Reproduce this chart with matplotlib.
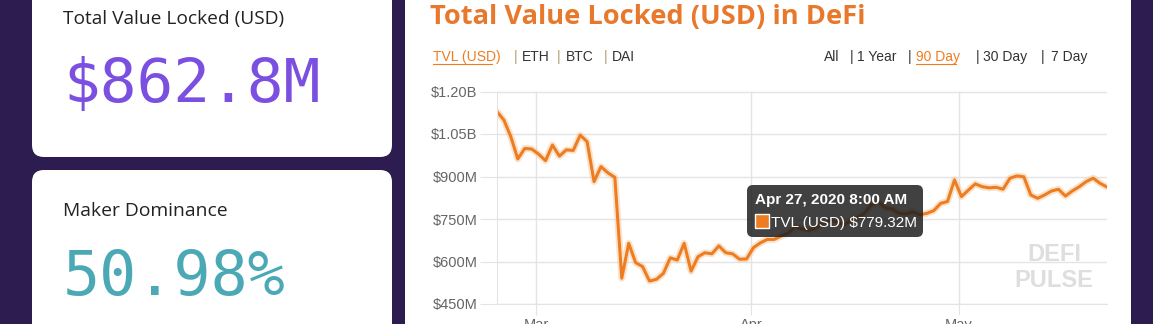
import matplotlib
matplotlib.use('Agg')
import matplotlib.pyplot as plt
from matplotlib.patches import FancyBboxPatch, Rectangle
import pandas as pd

# 每日 TVL (百万美元), 2020-02-24 到 2020-05-22, 每天 8:00 AM
tvl_feb = [1129, 1099, 1040, 962, 999, 997]
tvl_mar = [979, 956, 1011, 972, 994, 992, 1046, 1023, 882, 935, 913, 897,
           541, 664, 596, 582, 531, 537, 558, 613, 605, 664, 566, 617,
           631, 627, 655, 631, 627, 608, 609]
tvl_apr = [649, 666, 678, 678, 690, 700, 722, 715, 710, 718, 735, 745,
           740, 730, 745, 755, 770, 800, 810, 790, 785, 770, 768, 775,
           765, 770, 779.32, 805, 812, 888]
tvl_may = [829, 852, 874, 864, 860, 862, 855, 894, 902, 899, 835, 823,
           835, 849, 855, 831, 849, 864, 882, 894, 876, 862.8]
tvl_values = tvl_feb + tvl_mar + tvl_apr + tvl_may
dates = pd.date_range('2020-02-24 08:00', periods=len(tvl_values), freq='D')

y_ticks = [450, 600, 750, 900, 1050, 1200]
y_labels = ['$450M', '$600M', '$750M', '$900M', '$1.05B', '$1.20B']
x_ticks = pd.to_datetime(['2020-03-01', '2020-04-01', '2020-05-01'])
x_labels = ['Mar', 'Apr', 'May']

tip_date = 'Apr 27, 2020 8:00 AM'
tip_value = 779.32
tvl_now = '$862.8M'
maker_dom = '50.98%'

W, H = 1153, 324
BG = '#2d1c4f'
ORANGE = '#ee7d22'
GRID = '#e4e4e4'

fig = plt.figure(figsize=(W / 100, H / 100), dpi=100)
fig.patch.set_facecolor(BG)


def px_axes(zorder):
    # 整张图大小的坐标系, 单位为像素, y 轴向下
    a = fig.add_axes([0, 0, 1, 1], zorder=zorder)
    a.set_xlim(0, W)
    a.set_ylim(H, 0)
    a.axis('off')
    a.patch.set_alpha(0)
    return a


bg = px_axes(0)
# 卡片背景
for x0, y0, x1, y1 in [(32, -40, 392, 157), (32, 170, 392, 380), (405, -40, 1131, 380)]:
    bg.add_patch(FancyBboxPatch((x0, y0), x1 - x0, y1 - y0,
                                boxstyle='round,pad=0,rounding_size=12',
                                fc='white', ec='none'))

bg.text(63, 24, 'Total Value Locked (USD)', fontsize=13.8, family='Open Sans',
        color='#222222', va='baseline')
bg.text(63, 102, tvl_now, fontsize=44, family='DejaVu Sans Mono',
        color='#7b4fe0', va='baseline')
bg.text(63, 216, 'Maker Dominance', fontsize=13.9, family='Open Sans',
        color='#222222', va='baseline')
bg.text(63, 295, maker_dom, fontsize=44.5, family='DejaVu Sans Mono',
        color='#4aa9b4', va='baseline')

# 标题和切换选项
bg.text(430, 24, 'Total Value Locked (USD) in DeFi', fontsize=19.6, family='Open Sans',
        weight='bold', color='#e8782c', va='baseline')

SEP = '#b39b6e'
row_items = [
    (433, 'TVL (USD)', ORANGE, True), (514, '|', SEP, False),
    (522, 'ETH', '#333333', False), (557, '|', SEP, False),
    (566, 'BTC', '#333333', False), (604, '|', SEP, False),
    (612, 'DAI', '#333333', False),
    (824, 'All', '#333333', False), (850, '|', '#333333', False),
    (857, '1 Year', '#333333', False), (908, '|', '#333333', False),
    (916, '90 Day', ORANGE, True), (976, '|', '#333333', False),
    (983, '30 Day', '#333333', False), (1041, '|', '#333333', False),
    (1051, '7 Day', '#333333', False),
]
for x, s, c, link in row_items:
    t = bg.text(x, 61, s, fontsize=10, family='Liberation Sans', color=c,
                va='baseline')
    if link:
        bg.plot([x, x + 6.6 * len(s)], [64, 64], color=c, lw=0.8)

# 折线图
ax = fig.add_axes([497 / W, 1 - 304 / H, (1107 - 497) / W, (304 - 91.5) / H], zorder=1)
ax.patch.set_alpha(0)
ax.plot(dates, tvl_values, color='#f7c89c', lw=5, alpha=0.5, solid_capstyle='round')
ax.plot(dates, tvl_values, color=ORANGE, lw=2.2, solid_joinstyle='round')
ax.set_xlim(dates[0], dates[-1])
ax.set_ylim(450, 1200)
ax.set_yticks(y_ticks)
ax.set_yticklabels(y_labels)
ax.set_xticks(x_ticks)
ax.set_xticklabels(x_labels)
ax.grid(True, color=GRID, lw=1)
for side in ['top', 'right']:
    ax.spines[side].set_visible(False)
for side in ['left', 'bottom']:
    ax.spines[side].set_color(GRID)
ax.tick_params(axis='y', length=12, color=GRID, pad=2, labelsize=10.5,
               labelcolor='#666666')
ax.tick_params(axis='x', length=8, color=GRID, pad=2, labelsize=10.5,
               labelcolor='#666666')
for lab in ax.get_xticklabels() + ax.get_yticklabels():
    lab.set_family('Liberation Sans')

# 水印
ax.text(0.913, 0.235, 'DEFI', transform=ax.transAxes, ha='center', va='center',
        fontsize=17, family='Liberation Sans', weight='bold', color='#dedede')
ax.text(0.913, 0.11, 'PULSE', transform=ax.transAxes, ha='center', va='center',
        fontsize=17, family='Liberation Sans', weight='bold', color='#dedede')

# 提示框
top = px_axes(2)
top.add_patch(FancyBboxPatch((747, 185), 176, 52, boxstyle='round,pad=0,rounding_size=6',
                             fc='#1f1f1f', ec='none', alpha=0.85))
top.text(755, 204, tip_date, fontsize=11, family='Liberation Sans', weight='bold',
         color='white', va='baseline')
top.add_patch(Rectangle((755, 213.5), 14, 14, fc=ORANGE, ec='white', lw=1))
top.text(771, 226.5, f'TVL (USD) ${tip_value:.2f}M', fontsize=11,
         family='Liberation Sans', color='white', va='baseline')

fig.savefig('out.png', dpi=100, facecolor=BG)
